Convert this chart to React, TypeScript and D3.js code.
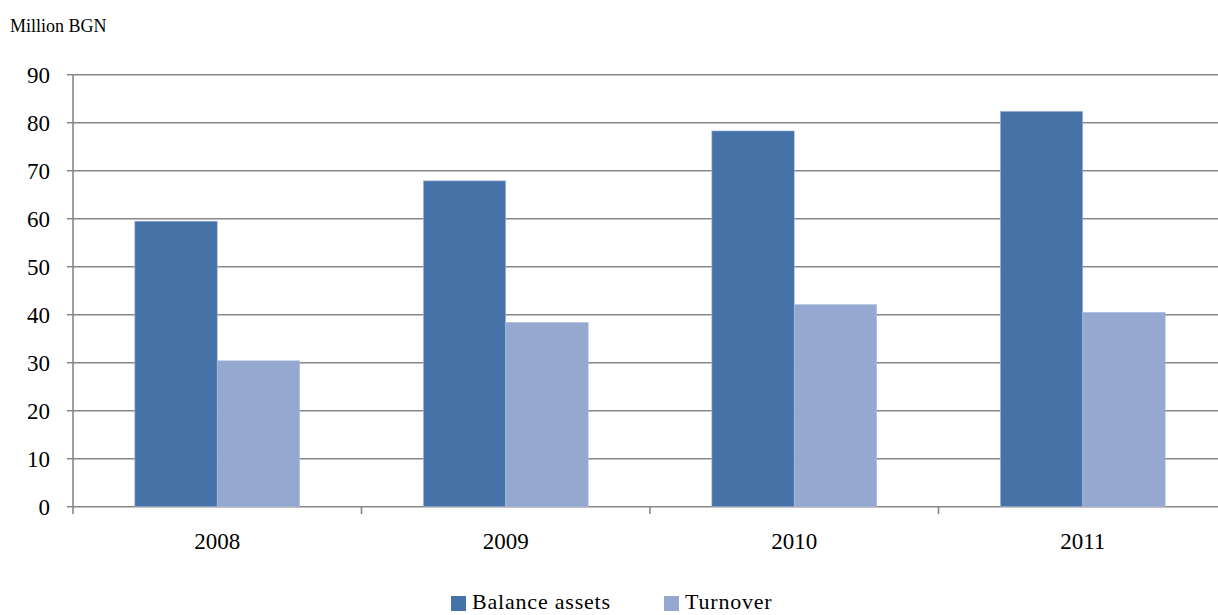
import * as d3 from "d3";
import { useEffect, useRef } from "react";

const years = ["2008", "2009", "2010", "2011"];
const balanceAssets = [59.5, 67.9, 78.3, 82.4];
const turnover = [30.4, 38.4, 42.1, 40.5];
const seriesNames = ["Balance assets", "Turnover"];
const yTicks = [0, 10, 20, 30, 40, 50, 60, 70, 80, 90];

export default function App() {
    const ref = useRef(null);
    const width = 1218,
        height = 615;

    useEffect(() => {
        const color = ["#4573A7", "#95A9D0"];
        const svg = d3.select(ref.current);
        svg.selectAll("*").remove();
        const font = "'Times New Roman', 'Liberation Serif', serif";

        const x = d3.scaleBand().domain(years).range([73, 1227]);
        const y = d3.scaleLinear().domain([0, 90]).range([506.7, 74.8]);
        const inner = d3.scaleBand().domain(seriesNames).range([0, x.bandwidth()]).paddingInner(0).paddingOuter(0.75);

        // grid
        svg.append("g")
            .selectAll("line")
            .data(yTicks)
            .join("line")
            .attr("x1", 67)
            .attr("x2", width)
            .attr("y1", d => y(d))
            .attr("y2", d => y(d))
            .attr("stroke", "#878787")
            .attr("stroke-width", 1.6);

        // y labels
        svg.append("g")
            .selectAll("text")
            .data(yTicks)
            .join("text")
            .attr("x", 50)
            .attr("y", d => y(d) + 8)
            .attr("text-anchor", "end")
            .style("font-family", font)
            .style("font-size", "23px")
            .text(d => d);

        // bars
        const data = [balanceAssets, turnover];
        data.forEach((vals, s) => {
            svg.append("g")
                .selectAll("rect")
                .data(vals)
                .join("rect")
                .attr("x", (_d, i) => (x(years[i]) as number) + (inner(seriesNames[s]) as number))
                .attr("y", d => y(d))
                .attr("width", inner.bandwidth())
                .attr("height", d => y(0) - y(d))
                .attr("fill", color[s])
                .attr("stroke", "#A9BDDD")
                .attr("stroke-width", 0.6);
        });

        // axes lines
        svg.append("line")
            .attr("x1", 73).attr("x2", 73)
            .attr("y1", y(90)).attr("y2", 514)
            .attr("stroke", "#878787").attr("stroke-width", 1.6);
        svg.append("g")
            .selectAll("line")
            .data(years.slice(1))
            .join("line")
            .attr("x1", d => x(d) as number)
            .attr("x2", d => x(d) as number)
            .attr("y1", y(0))
            .attr("y2", 514)
            .attr("stroke", "#878787")
            .attr("stroke-width", 1.6);

        // x labels
        svg.append("g")
            .selectAll("text")
            .data(years)
            .join("text")
            .attr("x", d => (x(d) as number) + x.bandwidth() / 2)
            .attr("y", 549)
            .attr("text-anchor", "middle")
            .style("font-family", font)
            .style("font-size", "23px")
            .text(d => d);

        // unit label
        svg.append("text")
            .attr("x", 10)
            .attr("y", 32)
            .style("font-family", font)
            .style("font-size", "18px")
            .text("Million BGN");

        // legend
        const legendX = [451, 664];
        seriesNames.forEach((name, i) => {
            svg.append("rect")
                .attr("x", legendX[i])
                .attr("y", 596)
                .attr("width", 15)
                .attr("height", 15)
                .attr("fill", color[i]);
            svg.append("text")
                .attr("x", legendX[i] + 21)
                .attr("y", 609)
                .style("font-family", font)
                .style("font-size", "22px")
                .style("letter-spacing", "0.8px")
                .text(name);
        });
    }, []);

    return (
        <div>
            <svg ref={ref} width={width} height={height}
                style={{ position: "absolute", left: 0, top: 0, background: "#fff" }}>
            </svg>
        </div>
    );
}
